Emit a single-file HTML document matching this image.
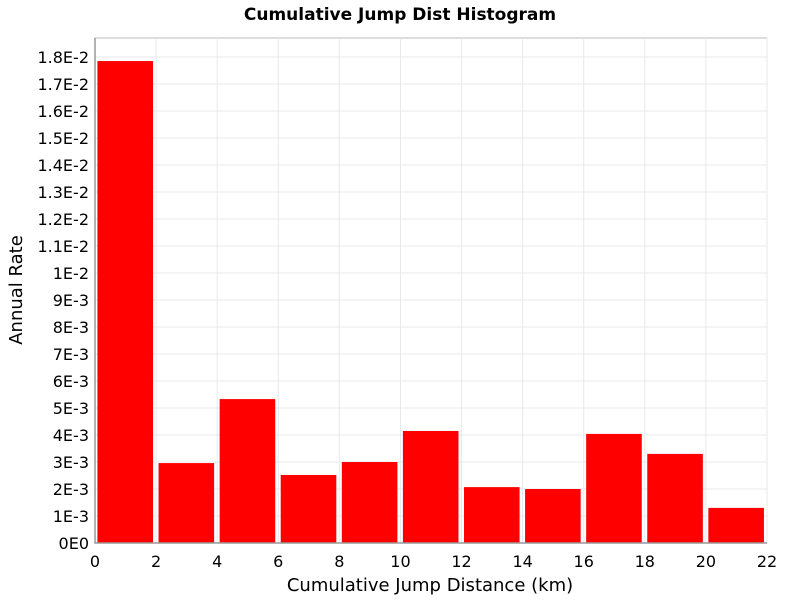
<!DOCTYPE html>
<html><head><meta charset="utf-8"><style>
body{margin:0;background:#fff;font-family:"DejaVu Sans","Liberation Sans",sans-serif}
</style></head><body>
<svg id="chart" width="800" height="600" xmlns="http://www.w3.org/2000/svg">
<text x="400" y="20" text-anchor="middle" font-size="17" font-weight="bold">Cumulative Jump Dist Histogram</text>
<g id="grid"></g><g id="bars"></g><g id="axes"></g>
<text x="430" y="591" text-anchor="middle" font-size="18">Cumulative Jump Distance (km)</text>
<text transform="translate(22,290) rotate(-90)" text-anchor="middle" font-size="18">Annual Rate</text>
</svg>
<script>
const binStarts=[0,2,4,6,8,10,12,14,16,18,20];
const rates=[0.01785,0.00296,0.00533,0.00252,0.0030,0.00415,0.00207,0.0020,0.00404,0.0033,0.0013];
const xTicks=[0,2,4,6,8,10,12,14,16,18,20,22];
const yTickLabels=["0E0","1E-3","2E-3","3E-3","4E-3","5E-3","6E-3","7E-3","8E-3","9E-3","1E-2","1.1E-2","1.2E-2","1.3E-2","1.4E-2","1.5E-2","1.6E-2","1.7E-2","1.8E-2"];
const L=95,R=767,T=38,B=543;
const xs=v=>L+(v/22)*(R-L);
const ys=v=>B-v/0.001*27;
const NS="http://www.w3.org/2000/svg";
function mk(p,tag,attrs){const e=document.createElementNS(NS,tag);for(const k in attrs)e.setAttribute(k,attrs[k]);p.appendChild(e);return e;}
const grid=document.getElementById('grid'),bars=document.getElementById('bars'),axes=document.getElementById('axes');
const bg=mk(grid,'rect',{x:L,y:T,width:R-L,height:B-T,fill:'#fff',stroke:'#bbb'});


xTicks.forEach(t=>{const l=mk(grid,'line',{x1:xs(t),x2:xs(t),y1:T,y2:B,stroke:'#e8e8e8'});


const tx=mk(axes,'text',{x:xs(t),y:B+24,'text-anchor':'middle','font-size':16});tx.textContent=t;

});
yTickLabels.forEach((s,i)=>{const y=ys(i*0.001);const l=mk(grid,'line',{x1:L,x2:R,y1:y,y2:y,stroke:'#e8e8e8'});


const tx=mk(axes,'text',{x:L-6,y:y+6,'text-anchor':'end','font-size':16});tx.textContent=s;

});
binStarts.forEach((b,i)=>{const x0=xs(b+0.08),x1=xs(b+1.9);const r=mk(bars,'rect',{x:x0,y:ys(rates[i]),width:x1-x0,height:B-ys(rates[i]),fill:'#ff0000'});

});
const ax=mk(axes,'path',{d:`M${L},${T} V${B} H${R}`,stroke:'#999',fill:'none','stroke-width':1.5});


</script>
</body></html>
